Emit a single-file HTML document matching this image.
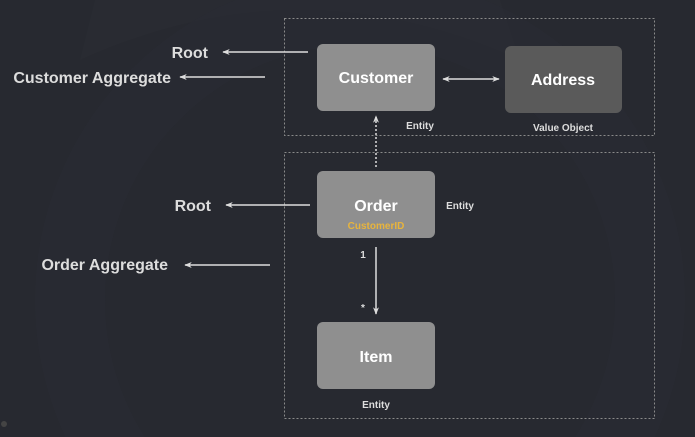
<!DOCTYPE html>
<html><head><style>
html,body{margin:0;padding:0;background:#272930;width:695px;height:437px;overflow:hidden;}
svg{display:block;}
text{font-family:"Liberation Sans",Arial,sans-serif;font-weight:bold;}
</style></head><body>
<svg width="695" height="437" viewBox="0 0 695 437" xmlns="http://www.w3.org/2000/svg">
<defs>
<marker id="a" viewBox="0 0 10 10" refX="9" refY="5" markerWidth="5" markerHeight="5" orient="auto-start-reverse"><path d="M0,1 L10,5 L0,9 L3,5 z" fill="#ddd"/></marker>
</defs>
<rect width="695" height="437" fill="#272930"/>
<path d="M80 60 Q300 -40 520 60 L500 0 L95 0 Z" fill="#2b2d34" opacity="0.5"/>
<circle cx="360" cy="300" r="290" fill="none" stroke="#2a2c33" stroke-width="70" opacity="0.5"/>
<circle cx="4" cy="424" r="3" fill="#444"/>
<rect x="284.5" y="18.5" width="370" height="117" fill="none" stroke="#8a8a8a" stroke-width="1" stroke-dasharray="2,2"/>
<rect x="284.5" y="152.5" width="370" height="266" fill="none" stroke="#8a8a8a" stroke-width="1" stroke-dasharray="2,2"/>
<rect x="317" y="44" width="118" height="67" rx="6" fill="#8f8f8f"/>
<rect x="505" y="46" width="117" height="67" rx="6" fill="#5a5a5a"/>
<rect x="317" y="171" width="118" height="67" rx="6" fill="#8f8f8f"/>
<rect x="317" y="322" width="118" height="67" rx="6" fill="#8f8f8f"/>
<text x="376" y="83" fill="#fff" font-size="16" text-anchor="middle">Customer</text>
<text x="563" y="85" fill="#fff" font-size="16" text-anchor="middle">Address</text>
<text x="376" y="211" fill="#fff" font-size="16" text-anchor="middle">Order</text>
<text x="376" y="229" fill="#e8b43c" font-size="10" text-anchor="middle">CustomerID</text>
<text x="376" y="362" fill="#fff" font-size="16" text-anchor="middle">Item</text>
<text x="420" y="129" fill="#ddd" font-size="10" text-anchor="middle">Entity</text>
<text x="563" y="131" fill="#ddd" font-size="10" text-anchor="middle">Value Object</text>
<text x="460" y="209" fill="#ddd" font-size="10" text-anchor="middle">Entity</text>
<text x="376" y="408" fill="#ddd" font-size="10" text-anchor="middle">Entity</text>
<text x="363" y="258" fill="#ddd" font-size="10" text-anchor="middle">1</text>
<text x="363" y="311" fill="#ddd" font-size="10" text-anchor="middle">*</text>
<line x1="443" y1="79" x2="499" y2="79" stroke="#ddd" stroke-width="1.5" marker-start="url(#a)" marker-end="url(#a)"/>
<line x1="376" y1="167" x2="376" y2="116" stroke="#ddd" stroke-width="1.5" stroke-dasharray="2,2" marker-end="url(#a)"/>
<line x1="376" y1="247" x2="376" y2="314" stroke="#ddd" stroke-width="1.5" marker-end="url(#a)"/>
<line x1="308" y1="52" x2="223" y2="52" stroke="#ddd" stroke-width="1.5" marker-end="url(#a)"/>
<line x1="265" y1="77" x2="180" y2="77" stroke="#ddd" stroke-width="1.5" marker-end="url(#a)"/>
<line x1="310" y1="205" x2="226" y2="205" stroke="#ddd" stroke-width="1.5" marker-end="url(#a)"/>
<line x1="270" y1="265" x2="185" y2="265" stroke="#ddd" stroke-width="1.5" marker-end="url(#a)"/>
<text x="208" y="58" fill="#ddd" font-size="16" text-anchor="end">Root</text>
<text x="171" y="83" fill="#ddd" font-size="16" text-anchor="end">Customer Aggregate</text>
<text x="211" y="211" fill="#ddd" font-size="16" text-anchor="end">Root</text>
<text x="168" y="270" fill="#ddd" font-size="16" text-anchor="end">Order Aggregate</text>
</svg>
</body></html>
